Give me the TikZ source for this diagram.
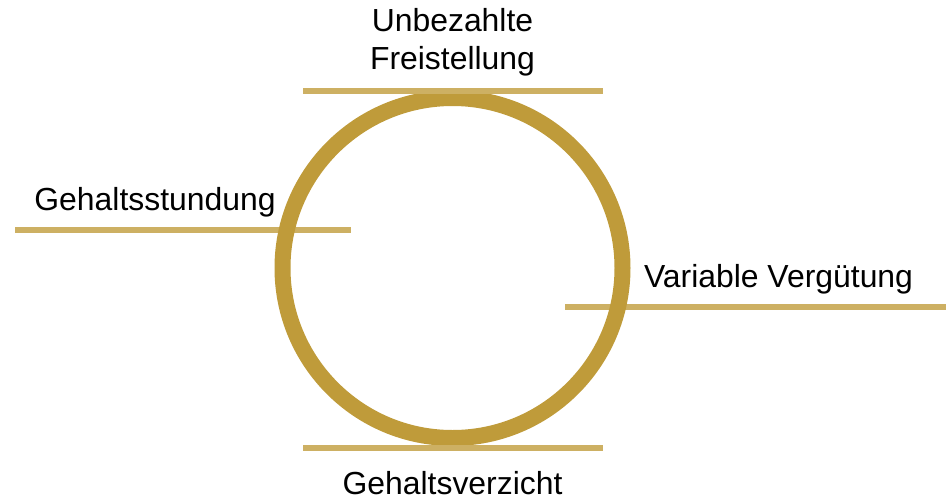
\documentclass[tikz,border=0pt]{standalone}
\usepackage{fontspec}
\setmainfont{Liberation Sans}
\definecolor{ringgold}{RGB}{191,155,58}
\definecolor{linegold}{RGB}{205,176,99}
\begin{document}
\begin{tikzpicture}[x=1pt,y=-1pt,
  bar/.style={draw=linegold,line width=6pt},
  lbl/.style={font=\fontsize{31.9}{38}\selectfont,inner sep=0pt,anchor=base,align=center}]
\useasboundingbox (0,0) rectangle (946,498);
\coordinate (lA) at (15,230);
\coordinate (lB) at (351,230);
\coordinate (rA) at (565,306.5);
\coordinate (rB) at (946,306.5);
\coordinate (tA) at (303,91);
\coordinate (tB) at (603,91);
\coordinate (bA) at (303,448);
\coordinate (bB) at (603,448);
\draw[bar] (lA) -- (lB);
\draw[bar] (rA) -- (rB);
\node[circle,draw=ringgold,line width=16pt,minimum size=340pt,inner sep=0pt] (ring) at (452.5,268) {};
\draw[bar] (tA) -- (tB);
\draw[bar] (bA) -- (bB);
\node[lbl] (top) at (452.5,69) {Unbezahlte\\Freistellung};
\node[lbl] (left) at (155,210) {Gehaltsstundung};
\node[lbl] (right) at (778.5,287) {Variable Vergütung};
\node[lbl] (bottom) at (452.5,494.5) {Gehaltsverzicht};
\end{tikzpicture}
\end{document}
